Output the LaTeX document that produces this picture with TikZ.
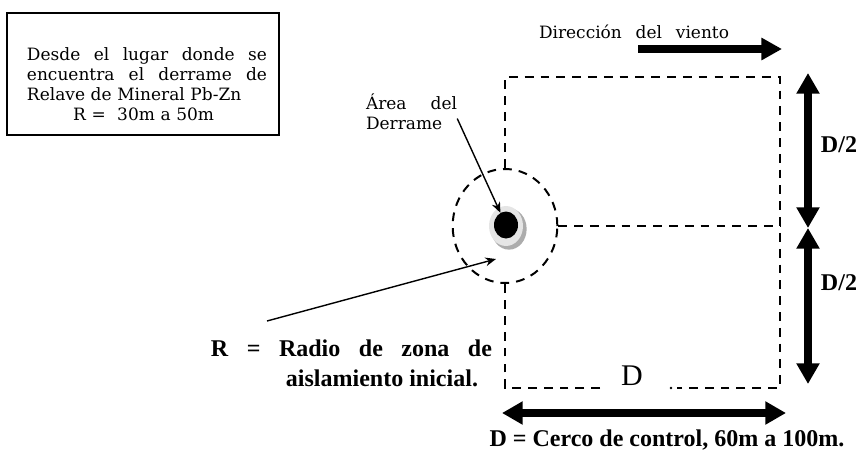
\documentclass[tikz,border=0pt]{standalone}
\usepackage{fontspec}
\setmainfont{Liberation Serif}
\newfontfamily\bookfont{DejaVu Serif}
\usetikzlibrary{arrows.meta, shapes.geometric}
\newcommand{\spreadline}[2]{\makebox[#1][s]{\spaceskip=0pt\relax #2}}

\begin{document}
\begin{tikzpicture}[x=0.03cm, y=-0.03cm,
	fence/.style = {line width=1.7pt, dash pattern=on 7.5pt off 6pt},
	bigarrow/.style = {line width=6pt, -{Triangle[length=0.62cm, width=0.64cm]}},
	bigboth/.style = {line width=6pt, {Triangle[length=0.62cm, width=0.66cm]}-{Triangle[length=0.62cm, width=0.66cm]}},
	pointer/.style = {line width=1.2pt, -{Stealth[length=0.32cm, width=0.26cm]}},
	booktext/.style = {font=\bookfont\fontsize{14.5}{17}\selectfont, inner sep=0pt},
	boldtext/.style = {font=\bfseries\fontsize{20.5}{25.6}\selectfont, inner sep=0pt}]
	\useasboundingbox (0,0) rectangle (858,467);

	% Info box
	\node[draw, line width=0.9pt, minimum width=8.16cm, minimum height=3.66cm, inner sep=0pt] (box) at (143,74) {};
	\node[booktext, text width=7.2cm, align=left] (info) at (147,84) {%
		\spreadline{7.2cm}{Desde el lugar donde se}\\
		\spreadline{7.2cm}{encuentra el derrame de}\\
		Relave de Mineral Pb-Zn\\
		\makebox[7.0cm]{R =~ 30m a 50m}};

	% Wind
	\node[booktext] (wind) at (634,32) {\spreadline{5.7cm}{Dirección del viento}};
	\coordinate (windtail) at (638,49);
	\coordinate (windtip) at (782,49);
	\draw[bigarrow] (windtail) -- (windtip);

	% Control fence
	\coordinate (tl) at (503,77);
	\coordinate (tr) at (780,77);
	\coordinate (br) at (780,388);
	\coordinate (bl) at (503,388);
	\coordinate (gapl) at (600,388);
	\coordinate (gapr) at (677,388);
	\coordinate (dot) at (671,388);
	\node[ellipse, draw, fence, minimum width=3.14cm, minimum height=3.42cm, inner sep=0pt] (zone) at (505,226) {};
	\draw[fence] (zone.north) -- (zone.north |- tl) -- (tr) -- (br) -- (gapr);
	\draw[fence] (gapl) -- (zone.south |- gapl) -- (zone.south);
	\draw[fence] (zone.east) -- (zone.east -| tr);
	\fill (dot) circle (1.2pt);
	\node[font=\fontsize{25.6}{30}\selectfont, inner sep=0pt] (dlabel) at (632,376) {D};

	% Spill
	\node[ellipse, fill=gray!65, minimum width=1.06cm, minimum height=1.24cm, inner sep=0pt] (shadow) at (509,229) {};
	\node[ellipse, fill=gray!20, minimum width=1.02cm, minimum height=1.2cm, inner sep=0pt] (spill) at (506,226) {};
	\node[ellipse, fill=black, minimum width=0.72cm, minimum height=0.81cm, inner sep=0pt] (core) at (506,225) {};

	\node[booktext, text width=2.73cm, align=left] (area) at (411.5,111.5) {\spreadline{2.73cm}{Área del}\\Derrame};
	\draw[pointer] ([yshift=-6pt]area.east) -- (core);

	% Radius
	\node[boldtext, align=right] (rlabel) at (351.5,363) {\spreadline{8.43cm}{R = Radio de zona de}\\aislamiento inicial.\hspace*{0.42cm}};
	\coordinate (rtail) at (267,321);
	\coordinate (rtip) at (496,259);
	\draw[pointer] (rtail) -- (rtip);

	% Side and bottom arrows
	\coordinate (dtop) at (808,73);
	\coordinate (dmid) at (808,228);
	\coordinate (dbot) at (808,384);
	\draw[bigboth] (dtop) -- (dmid);
	\draw[bigboth] (dmid) -- (dbot);
	\node[boldtext] (halfup) at (839,145) {D/2};
	\node[boldtext] (halfdown) at (839,283) {D/2};

	\coordinate (dleft) at (502,413);
	\coordinate (dright) at (786,413);
	\draw[bigboth] (dleft) -- (dright);
	\node[boldtext] (fencelabel) at (667,440) {D = Cerco de control, 60m a 100m.};
\end{tikzpicture}
\end{document}
